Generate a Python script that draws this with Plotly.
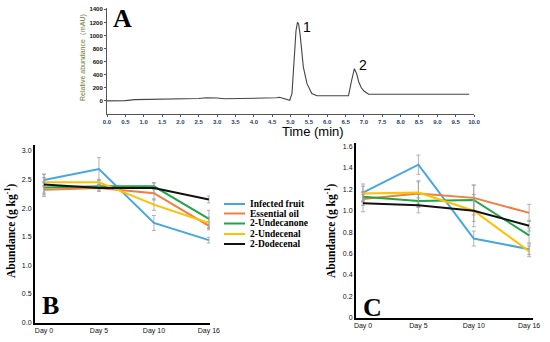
import plotly.graph_objects as go

# ---------------- Panel A: chromatogram ----------------
time_min = [0.0, 0.5, 0.75, 1.0, 1.5, 2.0, 2.5, 2.7, 2.85, 3.0, 3.2, 3.5, 4.0, 4.5, 4.62, 4.7,
            4.8, 4.9, 4.98, 5.04, 5.11, 5.15, 5.19, 5.22, 5.26, 5.35, 5.45, 5.58, 5.72, 6.0,
            6.3, 6.58, 6.66, 6.74, 6.8, 6.86, 6.93, 7.0, 7.13, 7.5, 8.0, 9.0, 9.87]
abundance_mau = [0, 5, 20, 22, 30, 33, 38, 48, 51, 45, 32, 35, 38, 40, 48, 56,
                 38, 18, 10, 112, 770, 1075, 1200, 1180, 1024, 517, 264, 112, 78, 78,
                 78, 78, 300, 492, 420, 289, 200, 152, 101, 101, 101, 101, 101]
a_xticks = [i * 0.5 for i in range(21)]
a_yticks = [0, 200, 400, 600, 800, 1000, 1200, 1400]
peak_labels = ["1", "2"]
peak_label_t = [5.45, 6.98]
peak_label_v = [1125, 547]

# ---------------- Panels B and C ----------------
days = ["Day 0", "Day 5", "Day 10", "Day 16"]
series_names = ["Infected fruit", "Essential oil", "2-Undecanone", "2-Undecenal", "2-Dodecenal"]
series_colors = ["#45a7e0", "#f47c3c", "#1fa64a", "#ffc000", "#111111"]

b_values = [
    [2.49, 2.68, 1.74, 1.44],
    [2.32, 2.35, 2.26, 1.69],
    [2.36, 2.38, 2.38, 1.81],
    [2.45, 2.45, 2.06, 1.74],
    [2.41, 2.35, 2.35, 2.15],
]
b_errors = [
    [0.10, 0.20, 0.13, 0.05],
    [0.12, 0.05, 0.12, 0.07],
    [0.10, 0.04, 0.06, 0.15],
    [0.08, 0.05, 0.10, 0.10],
    [0.18, 0.06, 0.09, 0.06],
]
b_yticks = [0.0, 0.5, 1.0, 1.5, 2.0, 2.5, 3.0]
b_yticktext = ["0.0", "0.5", "1.0", "1.5", "2.0", "2.5", "3.0"]

c_values = [
    [1.17, 1.43, 0.74, 0.64],
    [1.11, 1.16, 1.12, 0.98],
    [1.13, 1.09, 1.10, 0.77],
    [1.16, 1.17, 1.00, 0.62],
    [1.07, 1.05, 1.00, 0.86],
]
c_errors = [
    [0.08, 0.09, 0.07, 0.05],
    [0.06, 0.12, 0.12, 0.08],
    [0.05, 0.06, 0.14, 0.07],
    [0.07, 0.10, 0.15, 0.05],
    [0.08, 0.07, 0.10, 0.05],
]
c_yticks = [0, 0.2, 0.4, 0.6, 0.8, 1.0, 1.2, 1.4, 1.6]
c_yticktext = ["0", "0.2", "0.4", "0.6", "0.8", "1.0", "1.2", "1.4", "1.6"]

W, H = 550, 342
def px(x):
    return x / W
def py(y):
    return (H - y) / H

fig = go.Figure()

fig.add_trace(go.Scatter(x=time_min, y=abundance_mau, mode="lines",
                         line=dict(color="#444444", width=1.1), xaxis="x", yaxis="y",
                         showlegend=False))

for name, col, vals, errs in zip(series_names, series_colors, b_values, b_errors):
    fig.add_trace(go.Scatter(x=days, y=vals, mode="lines", name=name,
                             line=dict(color=col, width=2),
                             error_y=dict(type="data", array=errs, color="#a0a0a0",
                                          thickness=0.8, width=2),
                             xaxis="x2", yaxis="y2", showlegend=False))
for name, col, vals, errs in zip(series_names, series_colors, c_values, c_errors):
    fig.add_trace(go.Scatter(x=days, y=vals, mode="lines", name=name,
                             line=dict(color=col, width=2),
                             error_y=dict(type="data", array=errs, color="#a0a0a0",
                                          thickness=0.8, width=2),
                             xaxis="x3", yaxis="y3", showlegend=False))

tickfont_small = dict(family="Arial, Liberation Sans", size=7, color="#111111")

fig.update_layout(
    template="none",
    width=W, height=H, margin=dict(l=0, r=0, t=0, b=0, pad=0, autoexpand=False),
    paper_bgcolor="white", plot_bgcolor="white", showlegend=False,
    xaxis=dict(domain=[px(107), px(474)], range=[0, 10], anchor="y", automargin=False,
               tickvals=a_xticks, ticktext=["<b>%.1f</b>" % v for v in a_xticks],
               tickfont=dict(family="Arial, Liberation Sans", size=6, color="#1f3f6a"),
               showline=True, linecolor="#555555", linewidth=1, ticks="outside",
               ticklen=2, tickcolor="#555555", showgrid=False, zeroline=False),
    yaxis=dict(domain=[py(114), py(8)], range=[-200, 1420], anchor="x", automargin=False,
               tickvals=a_yticks, ticktext=["<b>%d</b>" % v for v in a_yticks],
               tickfont=dict(family="Arial, Liberation Sans", size=6, color="#111111"),
               showline=True, linecolor="#555555", linewidth=1, ticks="outside",
               ticklen=2, tickcolor="#555555", showgrid=False, zeroline=False),
    xaxis2=dict(domain=[px(35), px(210)], range=[-0.164, 3.02], anchor="y2", automargin=False,
                type="category", tickfont=tickfont_small, showline=True, linecolor="black",
                linewidth=2, showgrid=False, zeroline=False, ticks=""),
    yaxis2=dict(domain=[py(322.7), py(145)], range=[0, 3.1], anchor="x2", automargin=False,
                tickvals=b_yticks, ticktext=b_yticktext, tickfont=tickfont_small,
                showline=True, linecolor="black", linewidth=2, showgrid=False,
                zeroline=False, ticks=""),
    xaxis3=dict(domain=[px(356), px(533)], range=[-0.127, 3.07], anchor="y3", automargin=False,
                type="category", tickfont=tickfont_small, showline=True, linecolor="black",
                linewidth=2, showgrid=False, zeroline=False, ticks=""),
    yaxis3=dict(domain=[py(317.7), py(143.3)], range=[0, 1.63], anchor="x3", automargin=False,
                tickvals=c_yticks, ticktext=c_yticktext, tickfont=tickfont_small,
                showline=True, linecolor="black", linewidth=2, showgrid=False,
                zeroline=False, ticks=""),
)

ann = []
serif_bold = "Liberation Serif, Times New Roman, serif"
# panel letters
for letter, x, y in [("A", 122, 18), ("B", 50, 305), ("C", 372, 307)]:
    ann.append(dict(text="<b>%s</b>" % letter, x=px(x), y=py(y), xref="paper", yref="paper",
                    showarrow=False, font=dict(family=serif_bold, size=26, color="black"),
                    xanchor="center", yanchor="middle"))
# peak labels
for lab, t, v in zip(peak_labels, peak_label_t, peak_label_v):
    ann.append(dict(text=lab, x=t, y=v, xref="x", yref="y", showarrow=False,
                    xanchor="center", yanchor="middle",
                    font=dict(family="Arial, Liberation Sans", size=14, color="black")))
# axis titles
ann.append(dict(text="Time (min)", x=px(313), y=py(131), xref="paper", yref="paper",
                showarrow=False, xanchor="center", yanchor="middle",
                font=dict(family="Arial, Liberation Sans", size=13, color="black")))
ann.append(dict(text="Relative abundance（mAU)", x=px(83), y=py(58), xref="paper", yref="paper",
                showarrow=False, textangle=-90, xanchor="center", yanchor="middle",
                font=dict(family="Arial, Liberation Sans", size=7, color="#6b7a2a")))
for xc in [10, 330]:
    ann.append(dict(text="<b>Abundance (g kg<sup>-1</sup>)</b>", x=px(xc), y=py(231),
                    xref="paper", yref="paper", showarrow=False, textangle=-90,
                    xanchor="center", yanchor="middle",
                    font=dict(family=serif_bold, size=11.5, color="black")))

# manual legend
shapes = []
row_y = [204, 213.5, 223.5, 234, 244]
for name, col, yy in zip(series_names, series_colors, row_y):
    shapes.append(dict(type="line", xref="paper", yref="paper", x0=px(224), x1=px(245),
                       y0=py(yy), y1=py(yy), line=dict(color=col, width=2)))
    ann.append(dict(text="<b>%s</b>" % name, x=px(249), y=py(yy), xref="paper", yref="paper",
                    showarrow=False, xanchor="left", yanchor="middle", borderpad=0,
                    font=dict(family=serif_bold, size=9.5, color="black")))

fig.update_layout(annotations=ann, shapes=shapes)
fig.write_html("out.html", config={"displayModeBar": False},
               post_script="document.body.style.margin='0px';document.body.style.overflow='hidden';")
